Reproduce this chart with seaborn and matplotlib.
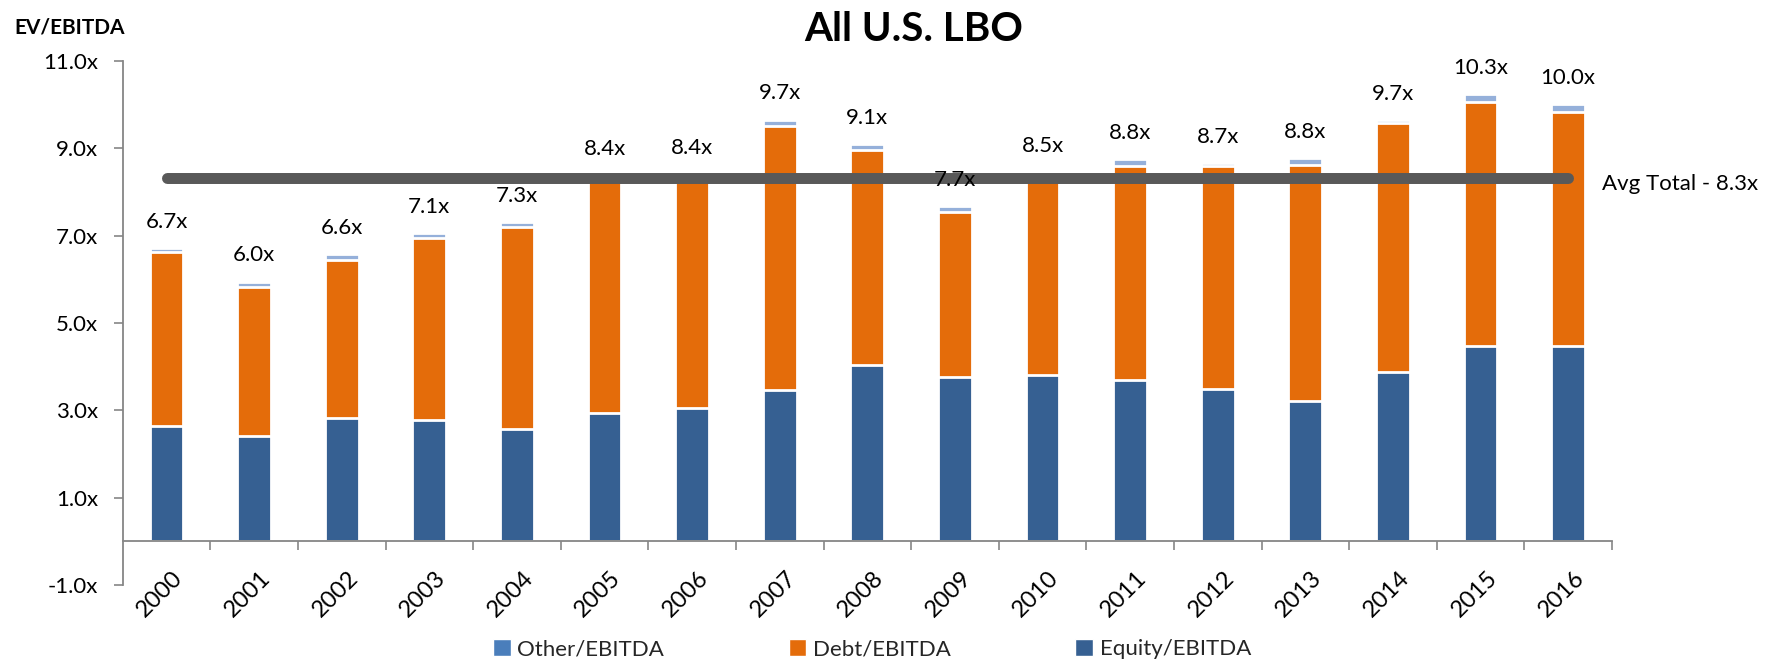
import numpy as np
import pandas as pd
import matplotlib
matplotlib.use("Agg")
import matplotlib.pyplot as plt
import matplotlib.transforms as mtransforms
from matplotlib.patches import Patch
import seaborn as sns

# data
years = ["2000", "2001", "2002", "2003", "2004", "2005", "2006", "2007", "2008",
         "2009", "2010", "2011", "2012", "2013", "2014", "2015", "2016"]
equity = [2.64, 2.42, 2.82, 2.77, 2.58, 2.94, 3.05, 3.47, 4.03,
          3.76, 3.80, 3.69, 3.49, 3.22, 3.88, 4.48, 4.48]
debt = [3.98, 3.41, 3.63, 4.18, 4.62, 5.39, 5.30, 6.04, 4.94,
        3.79, 4.60, 4.90, 5.11, 5.39, 5.70, 5.59, 5.36]
other = [0.09, 0.12, 0.13, 0.11, 0.11, 0.05, 0.05, 0.15, 0.13,
         0.12, 0.05, 0.17, 0.07, 0.17, 0.06, 0.18, 0.17]
total_labels = ["6.7x", "6.0x", "6.6x", "7.1x", "7.3x", "8.4x", "8.4x", "9.7x", "9.1x",
                "7.7x", "8.5x", "8.8x", "8.7x", "8.8x", "9.7x", "10.3x", "10.0x"]
avg_total = 8.33
avg_label = "Avg Total - 8.3x"
y_ticks = [-1, 1, 3, 5, 7, 9, 11]

df = pd.DataFrame({"year": years, "equity": equity, "debt": debt, "other": other})
df["eq_debt"] = df["equity"] + df["debt"]
df["total"] = df["eq_debt"] + df["other"]

sns.set_theme(style="white")
plt.rcParams["font.family"] = ["Lato", "DejaVu Sans"]

c_equity = "#366092"
c_debt = "#E46C0A"
c_other_bar = "#95B0DA"
c_other_leg = "#4A7EBB"
grey = "#868686"

fig = plt.figure(figsize=(17.72, 6.6), dpi=100)
ax = fig.add_axes([122.7 / 1772, 75 / 660, 1489.3 / 1772, 524 / 660])

bar_w = 0.386
# stacked look: draw cumulative heights back to front
sns.barplot(data=df, x="year", y="total", color=c_other_bar, width=bar_w,
            edgecolor="white", linewidth=2, saturation=1, errorbar=None, ax=ax)
sns.barplot(data=df, x="year", y="eq_debt", color=c_debt, width=bar_w,
            edgecolor="white", linewidth=2, saturation=1, errorbar=None, ax=ax)
sns.barplot(data=df, x="year", y="equity", color=c_equity, width=bar_w,
            edgecolor="white", linewidth=2, saturation=1, errorbar=None, ax=ax)

x = np.arange(len(years))

# average line
ax.plot([x[0], x[-1]], [avg_total, avg_total], color="#595959", lw=7.9,
        solid_capstyle="round", zorder=5)
ax.annotate(avg_label, xy=(x[-1], avg_total), xytext=(24.5, -8.6),
            textcoords="offset points", ha="left", va="baseline",
            fontsize=16, color="black", annotation_clip=False)

# total labels
for xi, tot, lab in zip(x, df["total"], total_labels):
    ax.annotate(lab, xy=(xi, tot), xytext=(0, 14.5), textcoords="offset points",
                ha="center", va="baseline", fontsize=16, color="black", zorder=6)

# axes styling
ax.set_xlim(-0.5, len(years) - 0.5)
ax.set_ylim(-1, 11)
ax.set_yticks(y_ticks)
ax.set_yticklabels([f"{v:.1f}x" for v in y_ticks])
ax.set_xlabel("")
ax.set_ylabel("")

for s in ["top", "right"]:
    ax.spines[s].set_visible(False)
ax.spines["bottom"].set_position(("data", 0))
for s in ["left", "bottom"]:
    ax.spines[s].set_color(grey)
    ax.spines[s].set_linewidth(1.3)

ax.tick_params(axis="y", which="major", direction="out", length=6.5, width=1.2,
               color=grey, pad=11, labelsize=16, labelcolor="black", left=True)
ax.set_xticks(x + 0.5, minor=True)
ax.tick_params(axis="x", which="minor", direction="out", length=6.5, width=1.2,
               color=grey, bottom=True)
ax.tick_params(axis="x", which="major", length=0, pad=24, labelsize=17,
               labelcolor="black")
offset = mtransforms.ScaledTranslation(13 / 100, 0, fig.dpi_scale_trans)
for lbl in ax.get_xticklabels():
    lbl.set_rotation(45)
    lbl.set_ha("right")
    lbl.set_va("center")
    lbl.set_rotation_mode("anchor")
    lbl.set_transform(lbl.get_transform() + offset)

# titles
fig.text(914 / 1772, 1 - 41 / 660, "All U.S. LBO", ha="center", va="baseline",
         fontsize=29, fontweight="bold", color="black")
fig.text(14 / 1772, 1 - 33 / 660, "EV/EBITDA", ha="left", va="baseline",
         fontsize=15, fontweight="bold", color="black")

# legend
handles = [Patch(facecolor=c_other_leg, label="Other/EBITDA"),
           Patch(facecolor=c_debt, label="Debt/EBITDA"),
           Patch(facecolor=c_equity, label="Equity/EBITDA")]
fig.legend(handles=handles, ncol=3, loc="center",
           bbox_to_anchor=(872 / 1772, 1 - 649 / 660), frameon=False,
           fontsize=16, handlelength=0.8, handleheight=0.8,
           handletextpad=0.3, columnspacing=5.6)

fig.savefig("out.png", dpi=100)
